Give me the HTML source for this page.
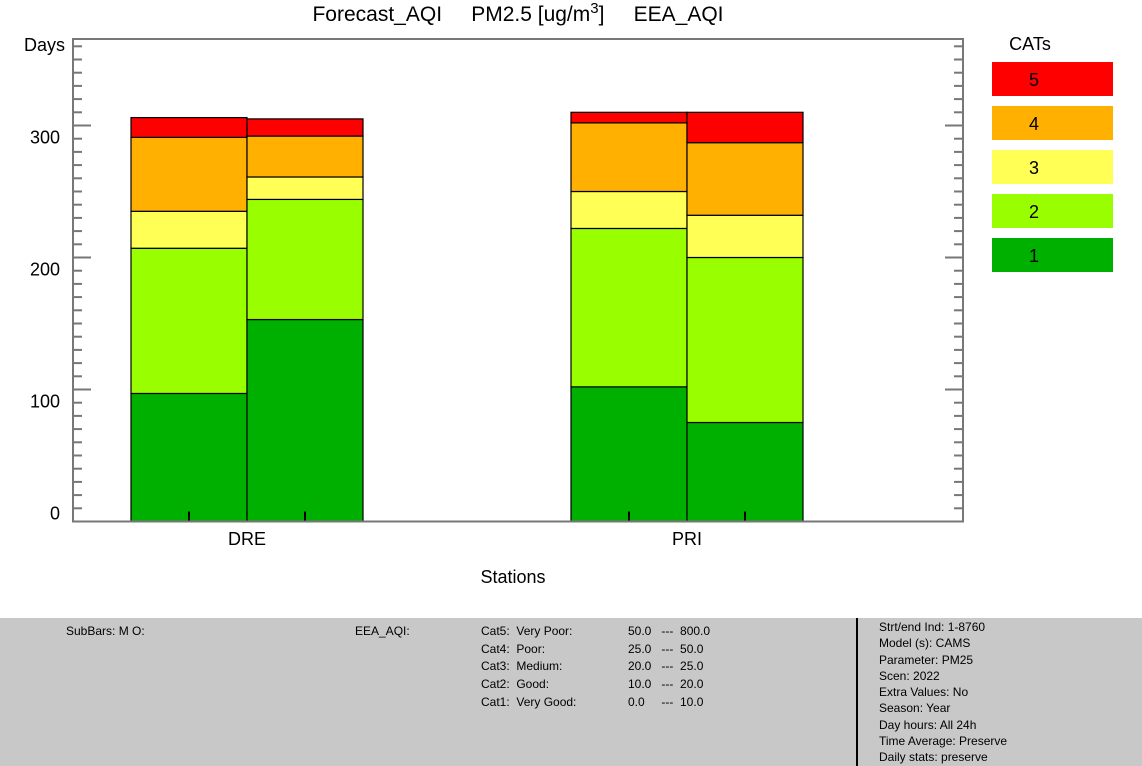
<!DOCTYPE html>
<html><head><meta charset="utf-8"><style>
body{margin:0;width:1142px;height:766px;overflow:hidden;background:#fff;font-family:"Liberation Sans",sans-serif}
svg text{font-family:"Liberation Sans",sans-serif}
#footer{position:absolute;left:0;top:618px;width:1142px;height:148px;background:#c8c8c8;font-size:12px;color:#000;overflow:hidden}
#footer div{position:absolute;line-height:17.7px;white-space:pre}
</style></head><body>
<svg id="chart" width="1142" height="618" style="position:absolute;left:0;top:0"></svg>
<div id="footer">
<div style="left:66px;top:5px">SubBars: M O:</div>
<div style="left:355px;top:5px">EEA_AQI:</div>
<div style="left:481px;top:5px">Cat5:  Very Poor:
Cat4:  Poor:
Cat3:  Medium:
Cat2:  Good:
Cat1:  Very Good:</div>
<div style="left:628px;top:5px">50.0   ---  800.0
25.0   ---  50.0
20.0   ---  25.0
10.0   ---  20.0
0.0     ---  10.0</div>
<div style="left:856px;top:0;width:2px;height:148px;background:#000"></div>
<div style="left:879px;top:1px;line-height:16.3px">Strt/end Ind: 1-8760
Model (s): CAMS
Parameter: PM25
Scen: 2022
Extra Values: No
Season: Year
Day hours: All 24h
Time Average: Preserve
Daily stats: preserve</div>
</div>
<script>
const stations=["DRE","PRI"];
const cats=["1","2","3","4","5"];
const colors=["#00b000","#99ff00","#ffff55","#ffb000","#ff0000"];
// segment counts per category for each sub-bar
const dre1=[97,110,28,56,15];
const dre2=[153,91,17,31,13];
const pri1=[102,120,28,52,8];
const pri2=[75,125,32,55,23];
const yTicks=[0,100,200,300];
const bars=[[dre1,dre2],[pri1,pri2]];
const NS="http://www.w3.org/2000/svg";
const svg=document.getElementById('chart');
const L=73,R=963,T=39,B=521.5;
const y=v=>B-v*1.32;
function mk(t,a,p){const e=document.createElementNS(NS,t);for(const k in a)e.setAttribute(k,a[k]);(p||svg).appendChild(e);return e;}
const stCenter=[247,687];
let t=mk('text',{x:518,y:21,'font-size':21,'text-anchor':'middle'});

t.setAttribute('style','white-space:pre');
t.innerHTML='Forecast_AQI\u00a0\u00a0\u00a0\u00a0\u00a0PM2.5 [ug/m<tspan dy="-8" font-size="15">3</tspan><tspan dy="8">]\u00a0\u00a0\u00a0\u00a0\u00a0EEA_AQI</tspan>';
stations.forEach((s,i)=>{
  bars[i].forEach((vals,j)=>{
    const x0=stCenter[i]-116+j*116, w=116;
    let cum=0;
    vals.forEach((v,k)=>{
      const r=mk('rect',{x:x0,y:y(cum+v),width:w,height:v*1.32,fill:colors[k],stroke:'#000','stroke-width':1.2});
      
      
      cum+=v;
    });
    const tk=mk('line',{x1:x0+w/2,x2:x0+w/2,y1:B,y2:B-10,stroke:'#000','stroke-width':2});
    
  });
  const lb=mk('text',{x:stCenter[i],y:545,'font-size':18,'text-anchor':'middle'});
  
  lb.textContent=s;
});
const fr=mk('rect',{x:L,y:T,width:R-L,height:B-T,fill:'none',stroke:'#777','stroke-width':2});

for(let v=0;v<=360;v+=10){
  const len=(v%100===0)?18:9;
  const a=mk('line',{x1:L,x2:L+len,y1:y(v),y2:y(v),stroke:'#777','stroke-width':2});
  
  const b=mk('line',{x1:R,x2:R-len,y1:y(v),y2:y(v),stroke:'#777','stroke-width':2});
  
}
yTicks.forEach(v=>{
  const e=mk('text',{x:60,y:(v===0?y(v)-2:y(v)+18),'font-size':18,'text-anchor':'end'});
  
  e.textContent=v;
});
let d=mk('text',{x:24,y:51,'font-size':18});
d.textContent='Days';
d=mk('text',{x:513,y:583,'font-size':18,'text-anchor':'middle'});
d.textContent='Stations';
d=mk('text',{x:1030,y:50,'font-size':18,'text-anchor':'middle'});
d.textContent='CATs';
for(let k=4;k>=0;k--){
  const yy=62+(4-k)*44;
  const r=mk('rect',{x:992,y:yy,width:121,height:34,fill:colors[k]});
  
  const tx=mk('text',{x:1034,y:yy+24,'font-size':18,'text-anchor':'middle'});
  
  tx.textContent=cats[k];
}
</script>
</body></html>
